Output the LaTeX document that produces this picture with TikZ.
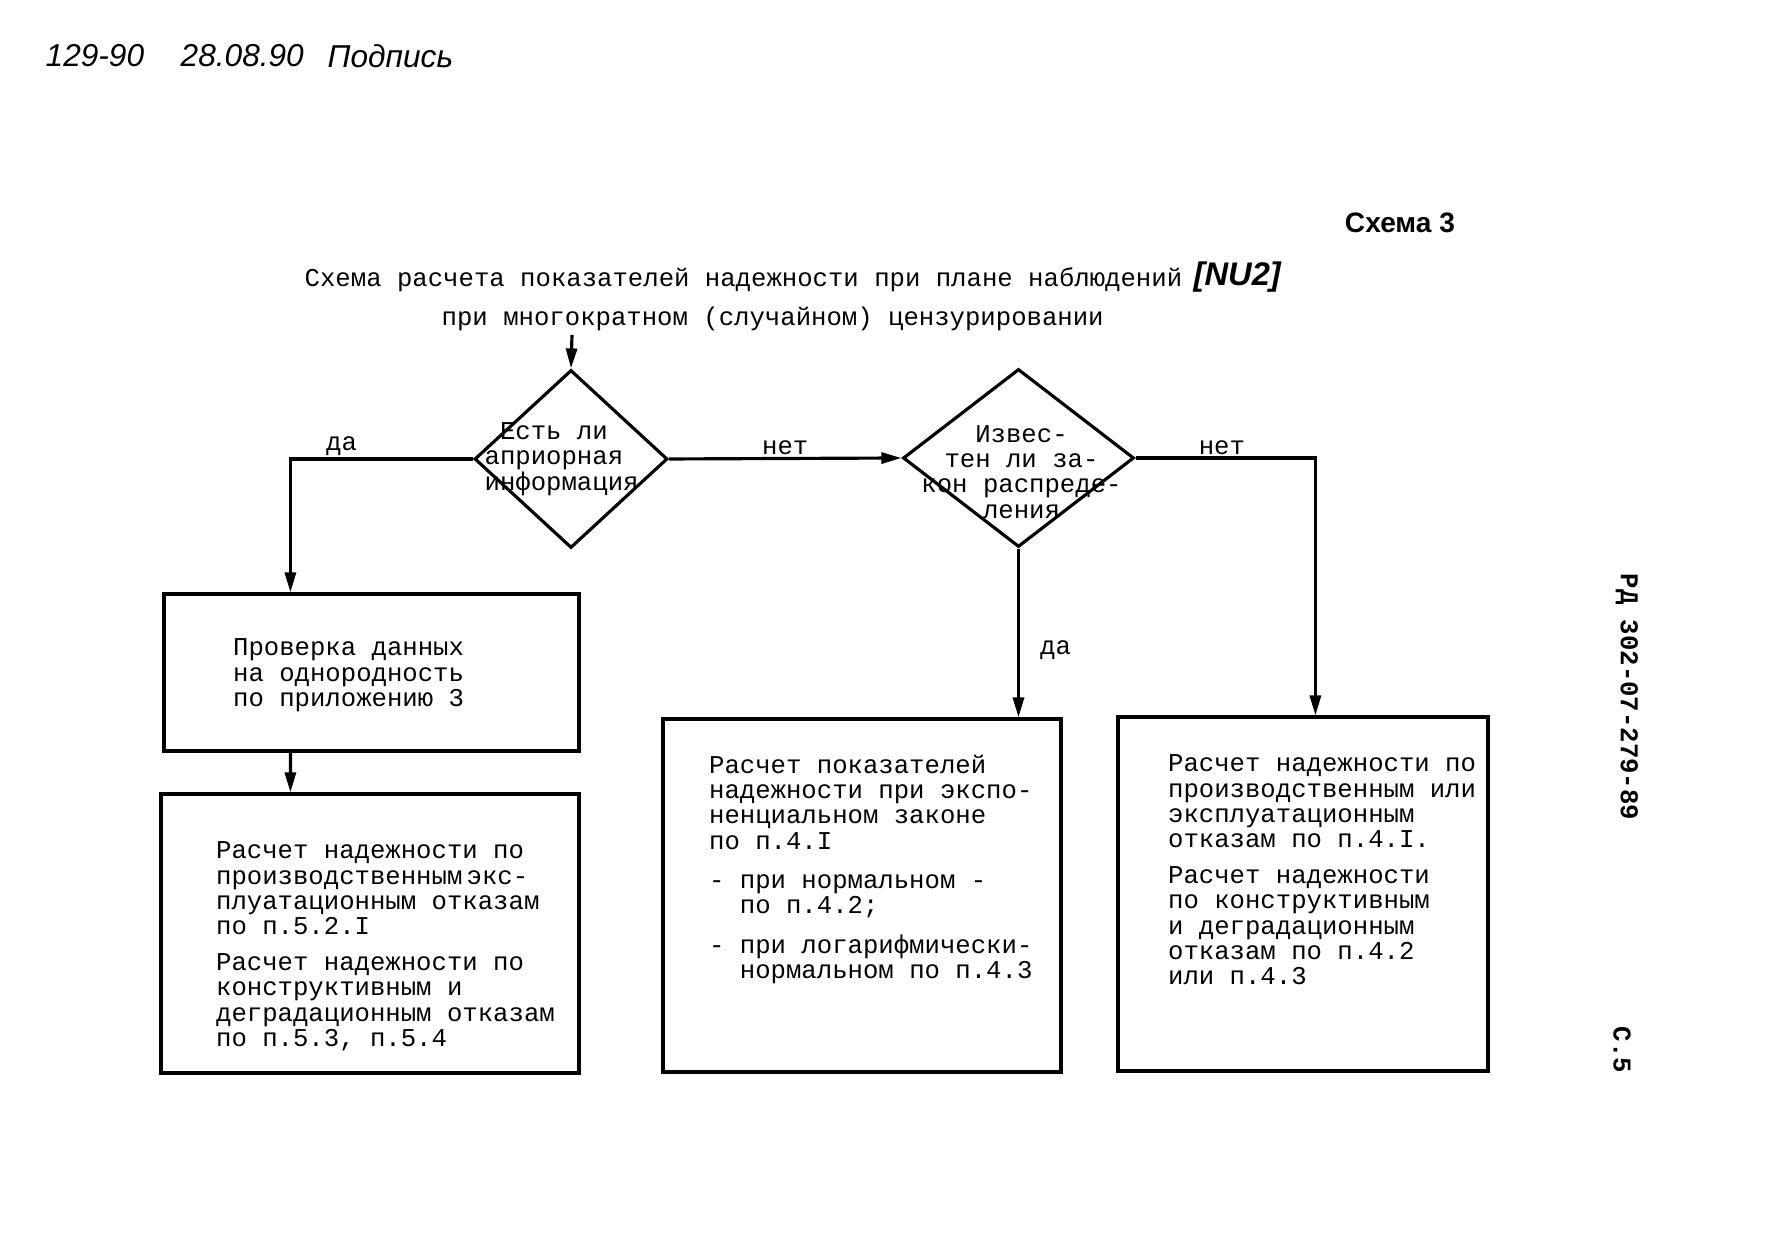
\documentclass[tikz,border=0pt]{standalone}
\usepackage{fontspec}
\setmainfont{Liberation Mono}
\newfontfamily\hwfont{Liberation Sans}
\usepackage{tikz}
\usetikzlibrary{arrows.meta,positioning,shapes.geometric}

\begin{document}
\begin{tikzpicture}[
  font=\fontsize{7.3}{7.2}\selectfont,
  box/.style={draw, line width=0.9pt, inner sep=0pt},
  dec/.style={draw, diamond, line width=0.9pt, inner sep=0pt, minimum height=1.78cm},
  txt/.style={align=left, inner sep=0pt},
  lbl/.style={inner sep=0.6pt},
  hand/.style={font=\fontsize{9}{11}\selectfont\hwfont\itshape, anchor=west, inner sep=0pt},
  arrow/.style={-{Triangle[length=2mm, width=1.1mm]}, line width=0.9pt}
]
  \useasboundingbox (0,0) rectangle (17.66,12.56);

  % header: handwritten note, sheet number
  \node[hand] (hw1) at (0.45, 12.00) {129-90};
  \node[hand] (hw2) at (1.80, 12.00) {28.08.90};
  \node[hand] (hw3) at (3.27, 12.00) {Подпись};
  \node[font=\fontsize{8}{10}\selectfont\hwfont\bfseries] (scheme) at (14.00, 10.33) {Схема 3};

  % title
  \node[anchor=west, inner sep=0pt] (ttl1) at (3.04, 9.76) {Схема расчета показателей надежности при плане наблюдений};
  \node[anchor=west, inner sep=0pt, font=\fontsize{9.3}{11}\selectfont\hwfont\bfseries\itshape] (plan) at (11.93, 9.79) {[NU2]};
  \node[anchor=west, inner sep=0pt] (ttl2) at (4.41, 9.37) {при многократном (случайном) цензурировании};
  \coordinate (in) at (5.72, 9.21);

  % decisions
  \node[dec, minimum width=1.93cm] (d1) at (5.71, 7.97) {};
  \node[txt, anchor=west] (d1t) at ([xshift=1.1mm]d1.west) {~Есть ли\\априорная\\информация};
  \node[dec, minimum width=2.31cm] (d2) at (10.185, 7.98) {};
  \node[txt, align=center] (d2t) at ([xshift=0.3mm, yshift=-1.4mm]d2.center) {Извес-\\тен ли за-\\кон распреде-\\ления};

  % boxes
  \node[box, minimum width=4.15cm, minimum height=1.57cm] (b1) at (3.715, 5.835) {};
  \node[txt, anchor=west] (b1t) at ([xshift=7mm, yshift=-0.3mm]b1.west)
    {Проверка данных\\на однородность\\по приложению 3};
  \node[box, minimum width=4.18cm, minimum height=2.79cm] (b2) at (3.70, 3.225) {};
  \node[txt, anchor=west] (b2t) at ([xshift=5.6mm, yshift=-1.3mm]b2.west)
    {Расчет надежности по\\производственным\,экс-\\плуатационным отказам\\по п.5.2.I\\[3pt]
     Расчет надежности по\\конструктивным и\\деградационным отказам\\по п.5.3, п.5.4};
  \node[box, minimum width=3.98cm, minimum height=3.53cm] (b3) at (8.62, 3.605) {};
  \node[txt, anchor=west] (b3t) at ([xshift=4.7mm, yshift=2.6mm]b3.west)
    {Расчет показателей\\надежности при экспо-\\ненциальном законе\\по п.4.I\\[4pt]
     -~при нормальном -\\\phantom{-~}по п.4.2;\\[4pt]
     -~при логарифмически-\\\phantom{-~}нормальном по п.4.3};
  \node[box, minimum width=3.70cm, minimum height=3.54cm] (b4) at (13.03, 3.62) {};
  \node[txt, anchor=west] (b4t) at ([xshift=5.1mm, yshift=2.4mm]b4.west)
    {Расчет надежности по\\производственным или\\эксплуатационным\\отказам по п.4.I.\\[3pt]
     Расчет надежности\\по конструктивным\\и деградационным\\отказам по п.4.2\\или п.4.3};

  % connectors
  \draw[arrow] (in) -- (d1.north);
  \draw[arrow] (d1.west) -| node[lbl, above, pos=0.36] {да} ([xshift=1.28cm]b1.north west);
  \draw[arrow] ([xshift=1.28cm]b1.south west) -- ([xshift=1.31cm]b2.north west);
  \draw[arrow] (d1.east) -- node[lbl, above] {нет} (d2.west);
  \draw[arrow] (d2.south) -- node[lbl, right, pos=0.6, xshift=1.8mm] {да} (d2.south |- b3.north);
  \draw[arrow] (d2.east) -| node[lbl, above, pos=0.24] {нет} ([xshift=1.99cm]b4.north west);

  % margin marks
  \node[font=\fontsize{7.3}{7.2}\selectfont\bfseries, rotate=-90] (code) at (16.27, 5.59) {РД 302-07-279-89};
  \node[font=\fontsize{7.3}{7.2}\selectfont\bfseries, rotate=-90] (page) at (16.22, 2.06) {С.5};
\end{tikzpicture}
\end{document}
